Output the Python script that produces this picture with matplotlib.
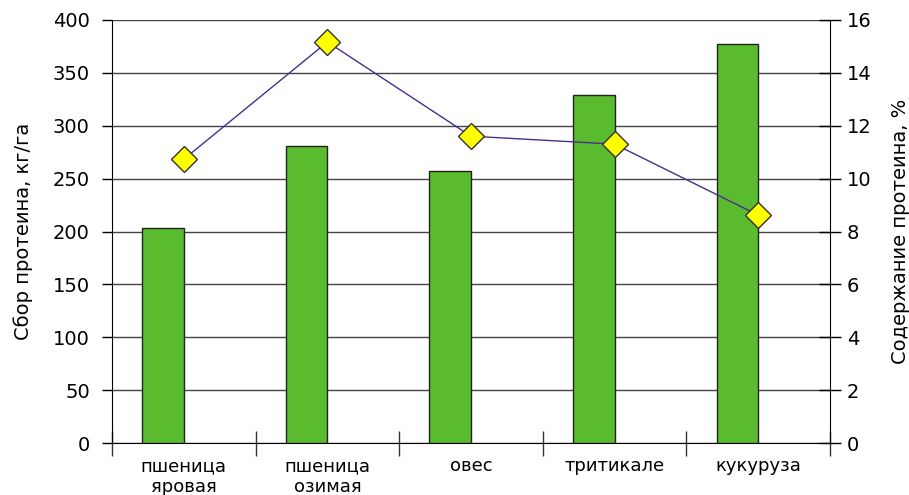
import matplotlib
matplotlib.use("Agg")
import matplotlib.pyplot as plt
import numpy as np

plt.rcParams['font.family'] = ['DejaVu Sans']

categories = ["пшеница\nяровая", "пшеница\nозимая", "овес", "тритикале", "кукуруза"]
protein_yield = [203, 281, 257, 329, 377]          # кг/га
protein_content = [10.73, 15.16, 11.6, 11.3, 8.62]  # %

fig = plt.figure(figsize=(9.09, 4.95), dpi=100)
ax = fig.add_axes([0.1232, 0.1044, 0.7899, 0.8558])

n = len(categories)
centers = np.arange(n) + 0.5
bar_w = 0.29

ax.bar(centers - bar_w, protein_yield, width=bar_w, align='edge',
       color='#5BBB2E', edgecolor='#222222', linewidth=1.0, zorder=3)

ax.set_xlim(0, n)
ax.set_ylim(0, 400)
ax.set_yticks(np.arange(0, 401, 50))
ax.yaxis.grid(True, color='#444444', linewidth=1.0, zorder=0)
ax.set_axisbelow(True)

ax.set_xticks(np.arange(0, n + 1))
ax.set_xticklabels([])
ax.set_xticks(centers, minor=True)
ax.set_xticklabels(categories, minor=True, fontsize=13, linespacing=1.2)
ax.tick_params(axis='x', which='major', direction='inout', length=18, width=1, color='#333333')
ax.tick_params(axis='x', which='minor', length=0, pad=10)
ax.tick_params(axis='y', direction='out', length=7, width=1, labelsize=14, pad=9)

ax.spines['top'].set_visible(False)
ax.spines['right'].set_visible(False)
ax.spines['left'].set_color('black')
ax.spines['bottom'].set_color('black')

ax.set_ylabel("Сбор протеина, кг/га", fontsize=14, labelpad=14)

ax2 = ax.twinx()
ax2.plot(centers, protein_content, color='#4B2D8C', linewidth=1.0,
         marker='D', markersize=13, markerfacecolor='#FFFF00',
         markeredgecolor='#333333', markeredgewidth=1.0, zorder=5)
ax2.set_ylim(0, 16)
ax2.set_yticks(np.arange(0, 17, 2))
ax2.tick_params(axis='y', direction='inout', length=16, width=1, labelsize=14, pad=4)
ax2.spines['top'].set_visible(False)
ax2.spines['left'].set_visible(False)
ax2.spines['bottom'].set_visible(False)
ax2.spines['right'].set_color('black')
ax2.set_ylabel("Содержание протеина, %", fontsize=14, labelpad=14)

fig.savefig("out.png", dpi=100)
